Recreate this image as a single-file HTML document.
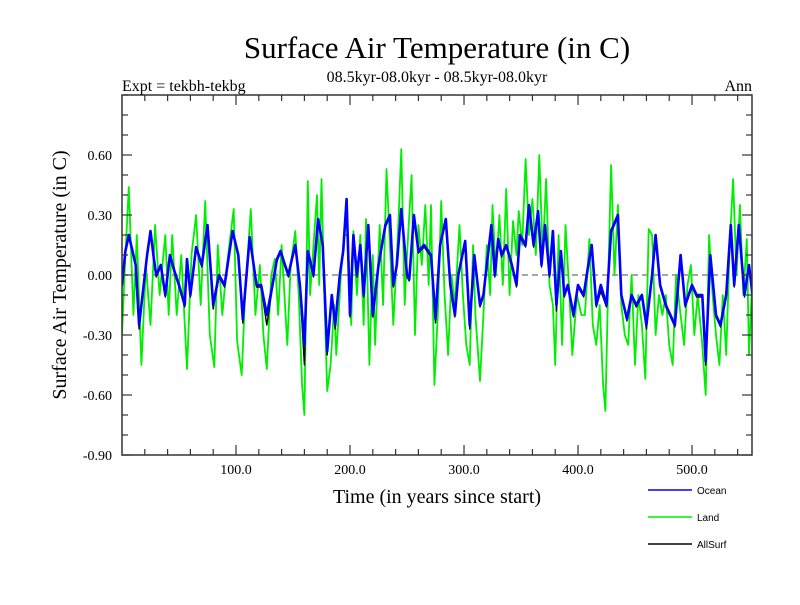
<!DOCTYPE html>
<html><head><meta charset="utf-8"><style>
body{margin:0;background:#fff}
svg text{font-family:"Liberation Serif",serif}
</style></head><body>
<svg id="chart" width="800" height="600" xmlns="http://www.w3.org/2000/svg">
<text x="437" y="58" font-size="31" text-anchor="middle">Surface Air Temperature (in C)</text>
<text x="437" y="82" font-size="16" text-anchor="middle">08.5kyr-08.0kyr - 08.5kyr-08.0kyr</text>
<text x="122" y="91" font-size="16">Expt = tekbh-tekbg</text>
<text x="752" y="91" font-size="16" text-anchor="end">Ann</text>
<text transform="translate(66,275) rotate(-90)" font-size="20" text-anchor="middle">Surface Air Temperature (in C)</text>
<text x="437" y="503" font-size="20" text-anchor="middle">Time (in years since start)</text>
<defs><clipPath id="pc"><rect x="122" y="95" width="630" height="360"/></clipPath></defs>
<g id="marks" clip-path="url(#pc)"></g>
<g id="axes"></g>
<g id="legend"></g>
</svg>
<script>
const oceanYears=[0,3,6,8,12,15,19,22,25,28,30,34,38,42,46,50,55,57,60,65,70,75,80,85,90,97,102,106,112,118,122,127,132,136,139,143,146,149,152,156,160,163,168,172,176,180,184,187,191,194,197,200,203,206,209,212,216,220,225,231,235,238,241,245,250,252,256,260,265,271,275,279,284,288,292,295,301,305,309,314,317,320,324,327,330,333,337,342,346,349,354,357,361,365,368,371,375,378,381,385,388,391,396,400,405,409,412,416,420,425,429,435,438,443,447,451,456,460,465,468,472,477,481,485,490,494,500,504,509,512,516,521,525,530,534,537,541,546,550,553];
const oceanValues=[-0.05,0.12,0.2,0.15,0.05,-0.25,-0.05,0.1,0.22,0.08,0,0.05,-0.1,0.1,0.02,-0.05,-0.15,0.08,-0.1,0.14,0.05,0.25,-0.15,0,-0.05,0.22,0.1,-0.22,0.19,-0.05,-0.05,-0.2,-0.05,0.08,0.12,0.05,0,0.08,0.15,-0.05,-0.35,0.12,0,0.28,0.15,-0.38,-0.1,-0.25,0,0.12,0.38,-0.2,0.2,0,0.15,-0.1,0.25,-0.2,0.05,0.25,0.3,-0.05,0.05,0.33,0,-0.02,0.3,0.12,0.15,0.1,-0.22,0.15,0.28,-0.05,-0.2,0,0.17,-0.25,0.1,-0.15,-0.1,0.05,0.25,0,0.18,0.1,0.15,0.05,-0.05,0.2,0.15,0.35,0.15,0.32,0.05,0.25,0,0.22,-0.15,0.12,-0.1,-0.05,-0.2,-0.05,-0.1,0.05,0.15,-0.15,-0.05,-0.15,0.22,0.3,-0.1,-0.22,-0.1,-0.15,-0.1,-0.25,0,0.2,-0.05,-0.15,-0.2,-0.25,0.1,-0.15,-0.05,-0.1,-0.1,-0.43,0.1,-0.2,-0.25,-0.1,0.25,-0.05,0.25,-0.1,0.05,-0.1];
const allSurfValues=[-0.06,0.11,0.19,0.14,0.04,-0.27,-0.05,0.09,0.21,0.07,-0.01,0.04,-0.11,0.09,0.01,-0.06,-0.16,0.07,-0.11,0.13,0.04,0.24,-0.17,-0.01,-0.06,0.21,0.09,-0.24,0.18,-0.06,-0.06,-0.25,-0.06,0.07,0.11,0.04,-0.01,0.07,0.14,-0.06,-0.45,0.11,-0.01,0.27,0.14,-0.4,-0.11,-0.27,-0.01,0.11,0.37,-0.21,0.19,-0.01,0.14,-0.11,0.24,-0.21,0.04,0.24,0.29,-0.06,0.04,0.32,-0.01,-0.03,0.29,0.11,0.14,0.09,-0.24,0.14,0.27,-0.06,-0.21,-0.01,0.16,-0.27,0.09,-0.16,-0.11,0.04,0.24,-0.01,0.17,0.09,0.14,0.04,-0.06,0.19,0.14,0.34,0.14,0.31,0.04,0.24,-0.01,0.21,-0.18,0.11,-0.11,-0.06,-0.21,-0.06,-0.11,0.04,0.14,-0.16,-0.08,-0.16,0.21,0.29,-0.11,-0.23,-0.11,-0.16,-0.11,-0.27,-0.01,0.19,-0.06,-0.16,-0.21,-0.26,0.09,-0.16,-0.06,-0.11,-0.11,-0.45,0.09,-0.21,-0.26,-0.11,0.24,-0.06,0.24,-0.11,0.04,-0.11];
const landYears=[0,3,6,10,13,17,21,25,29,33,38,41,44,48,52,57,61,65,69,73,77,81,84,88,92,98,101,105,108,113,117,121,124,127,131,134,137,140,145,148,152,155,158,160,163,165,168,171,173,175,178,180,183,186,188,192,195,198,201,203,206,209,212,214,217,220,222,226,229,232,235,238,242,245,248,250,254,257,260,263,266,269,271,274,277,280,283,286,289,292,296,299,302,305,308,310,314,317,320,323,325,328,331,334,337,340,343,346,348,351,354,357,360,363,366,369,372,375,378,380,383,386,389,392,395,399,403,406,410,413,416,419,422,424,427,429,432,435,438,441,444,447,450,453,456,459,462,465,468,471,474,477,480,483,486,490,493,496,499,502,505,509,512,515,518,521,524,527,530,533,536,539,542,545,548,550,553];
const landValues=[-0.3,0.1,0.44,-0.2,0.2,-0.45,0.05,-0.25,0.25,-0.1,0.2,-0.2,0.2,-0.2,0.1,-0.47,0.1,0.3,-0.15,0.37,-0.3,-0.46,0.15,-0.2,0.05,0.33,-0.33,-0.5,-0.1,0.33,-0.2,0.05,-0.3,-0.47,0,0.08,-0.2,0.15,-0.35,0.05,0.22,-0.1,-0.55,-0.7,0.47,-0.1,0.15,0.4,-0.05,0.48,-0.2,-0.58,-0.45,-0.15,-0.4,0,0.2,0.2,-0.25,0.22,-0.1,0.2,-0.25,0.28,-0.45,0.1,-0.35,0.25,-0.15,0.53,0.15,-0.25,0.2,0.63,-0.15,0.1,0.5,-0.3,0.25,0.05,0.35,-0.05,0.35,-0.55,-0.2,0.37,-0.1,-0.4,0,-0.15,0.25,-0.1,-0.35,-0.45,0.15,-0.2,-0.53,-0.2,0.15,-0.1,0.35,0,0.3,-0.05,0.43,-0.1,0.27,0.1,0.32,0.15,0.58,0.2,0.38,0.1,0.6,0.1,0.48,-0.05,-0.15,-0.45,0.2,-0.35,0.25,-0.05,-0.4,-0.1,-0.2,-0.2,0.18,-0.25,-0.35,-0.15,-0.55,-0.68,0.1,0.55,0,0.35,-0.15,-0.3,-0.35,0,-0.45,-0.1,-0.25,-0.52,0.23,0.2,-0.3,-0.1,-0.2,-0.1,-0.35,-0.45,0,-0.2,-0.35,-0.05,0.05,-0.3,-0.1,-0.35,-0.6,0.2,-0.1,-0.3,-0.45,-0.1,-0.4,0.15,0.48,0,0.35,-0.1,0.18,-0.4,0];
const yTicks=[-0.9,-0.6,-0.3,0,0.3,0.6];
const yTickLabels=["-0.90","-0.60","-0.30","0.00","0.30","0.60"];
const xTicks=[100,200,300,400,500];
const xTickLabels=["100.0","200.0","300.0","400.0","500.0"];

const X0=122,X1=752,Y0=95,Y1=455,XMIN=0,XMAX=552.6,YMIN=-0.9,YMAX=0.9;
const sx=v=>X0+(v-XMIN)/(XMAX-XMIN)*(X1-X0);
const sy=v=>Y1-(v-YMIN)/(YMAX-YMIN)*(Y1-Y0);
const NS="http://www.w3.org/2000/svg";
function mk(t,a,p){const e=document.createElementNS(NS,t);for(const k in a)e.setAttribute(k,a[k]);p.appendChild(e);return e;}
const marks=document.getElementById('marks'),axes=document.getElementById('axes'),legend=document.getElementById('legend');

const zl=mk('line',{x1:X0,x2:X1,y1:sy(0),y2:sy(0),stroke:'#888','stroke-width':1.5,'stroke-dasharray':'6,4'},marks);


function series(xs,ys){return xs.map((x,i)=>(i?'L':'M')+sx(x).toFixed(1)+','+sy(ys[i]).toFixed(1)).join('');}
const pl=mk('path',{d:series(landYears,landValues),fill:'none',stroke:'#00ee00','stroke-width':1.8,'stroke-linejoin':'round'},marks);


const pa=mk('path',{d:series(oceanYears,allSurfValues),fill:'none',stroke:'#000','stroke-width':1.4,'stroke-linejoin':'round'},marks);


const po=mk('path',{d:series(oceanYears,oceanValues),fill:'none',stroke:'#0000ff','stroke-width':2.6,'stroke-linejoin':'round'},marks);



const frame=mk('rect',{x:X0,y:Y0,width:X1-X0,height:Y1-Y0,fill:'none',stroke:'#333','stroke-width':1.5},axes);


for(let v=-0.9;v<=0.901;v+=0.1){
  const major=yTicks.some(t=>Math.abs(t-v)<1e-6),L=major?10:6;
  mk('line',{x1:X0,x2:X0+L,y1:sy(v),y2:sy(v),stroke:'#333','stroke-width':1.2},axes);
  mk('line',{x1:X1,x2:X1-L,y1:sy(v),y2:sy(v),stroke:'#333','stroke-width':1.2},axes);
}
yTicks.forEach((t,i)=>{const e=mk('text',{x:X0-10,y:sy(t)+5,'font-size':14,'text-anchor':'end'},axes);e.textContent=yTickLabels[i];

});
for(let v=20;v<XMAX;v+=20){
  const major=v%100===0,L=major?10:6;
  mk('line',{x1:sx(v),x2:sx(v),y1:Y1,y2:Y1-L,stroke:'#333','stroke-width':1.2},axes);
  mk('line',{x1:sx(v),x2:sx(v),y1:Y0,y2:Y0+L,stroke:'#333','stroke-width':1.2},axes);
}
xTicks.forEach((t,i)=>{const e=mk('text',{x:sx(t),y:Y1+19,'font-size':14,'text-anchor':'middle'},axes);e.textContent=xTickLabels[i];

});

const leg=[["Ocean","#0000ff",490],["Land","#00ee00",517],["AllSurf","#000",544]];
leg.forEach(l=>{
  const ln=mk('line',{x1:648,x2:692,y1:l[2],y2:l[2],stroke:l[1],'stroke-width':1.5},legend);
  
  
  const t=mk('text',{x:697,y:l[2]+4,'font-size':10},legend);
  t.setAttribute('style','font-family:"Liberation Sans",sans-serif');
  t.textContent=l[0];
  
  
});
</script>
</body></html>
